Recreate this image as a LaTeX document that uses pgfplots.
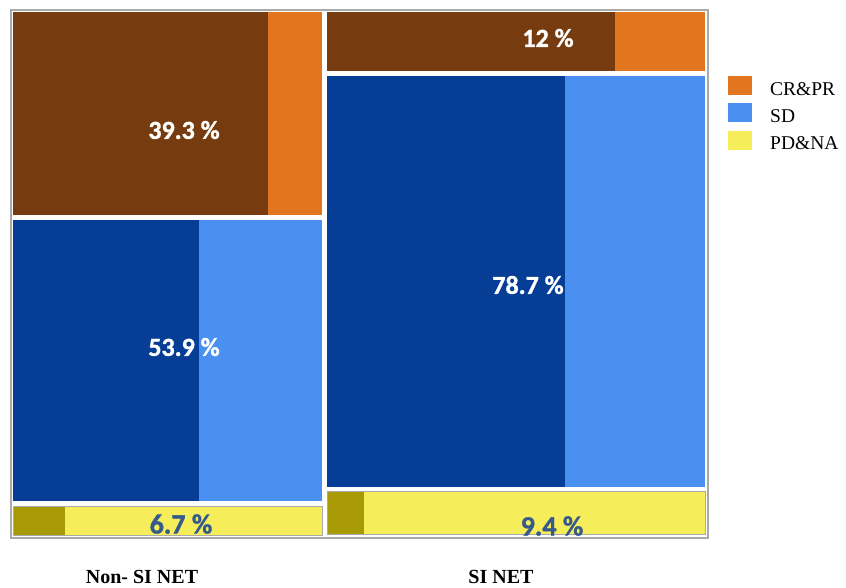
\documentclass[border=0pt]{standalone}
\usepackage{fontspec}
\setmainfont{Liberation Serif}
\newfontfamily\carlito{Carlito}[BoldFeatures={FakeBold=1.2}]
\usepackage{pgfplots}
\pgfplotsset{compat=1.18}
\definecolor{dbrown}{RGB}{118,60,15}
\definecolor{corange}{RGB}{226,118,32}
\definecolor{dblue}{RGB}{6,62,150}
\definecolor{lblue}{RGB}{74,144,240}
\definecolor{olive}{RGB}{168,154,5}
\definecolor{cyellow}{RGB}{245,238,90}
\definecolor{lblcol}{RGB}{55,90,140}
\definecolor{frame}{RGB}{170,170,170}
\begin{document}
\begin{tikzpicture}
\begin{axis}[
  scale only axis, width=846pt, height=588pt,
  xmin=0, xmax=846, ymin=0, ymax=588, y dir=reverse,
  hide axis, clip=false, enlargelimits=false,
  legend style={at={(axis cs:728,76)}, anchor=north west, draw=none, fill=none,
    inner sep=0pt, row sep=6.5pt, column sep=18pt,
    font=\fontsize{19.5}{19.5}\selectfont,
    nodes={inner sep=0pt, anchor=west, yshift=-2pt}},
  legend cell align=left,
  legend image code/.code={\fill[#1] (0pt,-7.5pt) rectangle (24pt,11.5pt);},
]
\addlegendimage{fill=corange, draw=none}
\addlegendimage{fill=lblue, draw=none}
\addlegendimage{fill=cyellow, draw=none}
\legend{CR\&PR, SD, PD\&NA}
% bounding area
\addplot[draw=none, forget plot] coordinates {(0,0) (846,588)};
% outer frame
\addplot[fill=white, draw=frame, line width=1.5pt, forget plot] coordinates {(11,10) (708,10) (708,538) (11,538)} -- cycle;
% Non- SI NET column
\addplot[fill=dbrown, draw=none, forget plot] coordinates {(13,12) (268,12) (268,215) (13,215)} -- cycle;
\addplot[fill=corange, draw=none, forget plot] coordinates {(268,12) (322,12) (322,215) (268,215)} -- cycle;
\addplot[fill=dblue, draw=none, forget plot] coordinates {(13,220) (199,220) (199,501) (13,501)} -- cycle;
\addplot[fill=lblue, draw=none, forget plot] coordinates {(199,220) (322,220) (322,501) (199,501)} -- cycle;
\addplot[fill=cyellow, draw=frame, line width=1pt, forget plot] coordinates {(13,506) (322,506) (322,535) (13,535)} -- cycle;
\addplot[fill=olive, draw=none, forget plot] coordinates {(13.5,506.5) (65,506.5) (65,534.5) (13.5,534.5)} -- cycle;
% SI NET column
\addplot[fill=dbrown, draw=none, forget plot] coordinates {(327,12) (615,12) (615,71) (327,71)} -- cycle;
\addplot[fill=corange, draw=none, forget plot] coordinates {(615,12) (705,12) (705,71) (615,71)} -- cycle;
\addplot[fill=dblue, draw=none, forget plot] coordinates {(327,76) (565,76) (565,487) (327,487)} -- cycle;
\addplot[fill=lblue, draw=none, forget plot] coordinates {(565,76) (705,76) (705,487) (565,487)} -- cycle;
\addplot[fill=cyellow, draw=frame, line width=1pt, forget plot] coordinates {(327,491) (705,491) (705,534) (327,534)} -- cycle;
\addplot[fill=olive, draw=none, forget plot] coordinates {(327.5,491.5) (364,491.5) (364,533.5) (327.5,533.5)} -- cycle;
% labels
\node[text=white, font=\carlito\bfseries\fontsize{26}{26}\selectfont] at (axis cs:184,130) {39.3 \%};
\node[text=white, font=\carlito\bfseries\fontsize{26}{26}\selectfont] at (axis cs:548,38) {12 \%};
\node[text=white, font=\carlito\bfseries\fontsize{26}{26}\selectfont] at (axis cs:184,347) {53.9 \%};
\node[text=white, font=\carlito\bfseries\fontsize{26}{26}\selectfont] at (axis cs:528,285) {78.7 \%};
\node[text=lblcol, font=\carlito\bfseries\fontsize{28}{28}\selectfont] at (axis cs:181,524) {6.7 \%};
\node[text=lblcol, font=\carlito\bfseries\fontsize{28}{28}\selectfont] at (axis cs:552,526) {9.4 \%};
\node[font=\bfseries\fontsize{20}{20}\selectfont] at (axis cs:142,577) {Non- SI NET};
\node[font=\bfseries\fontsize{20}{20}\selectfont] at (axis cs:501,577) {SI NET};
\end{axis}
\end{tikzpicture}
\end{document}
